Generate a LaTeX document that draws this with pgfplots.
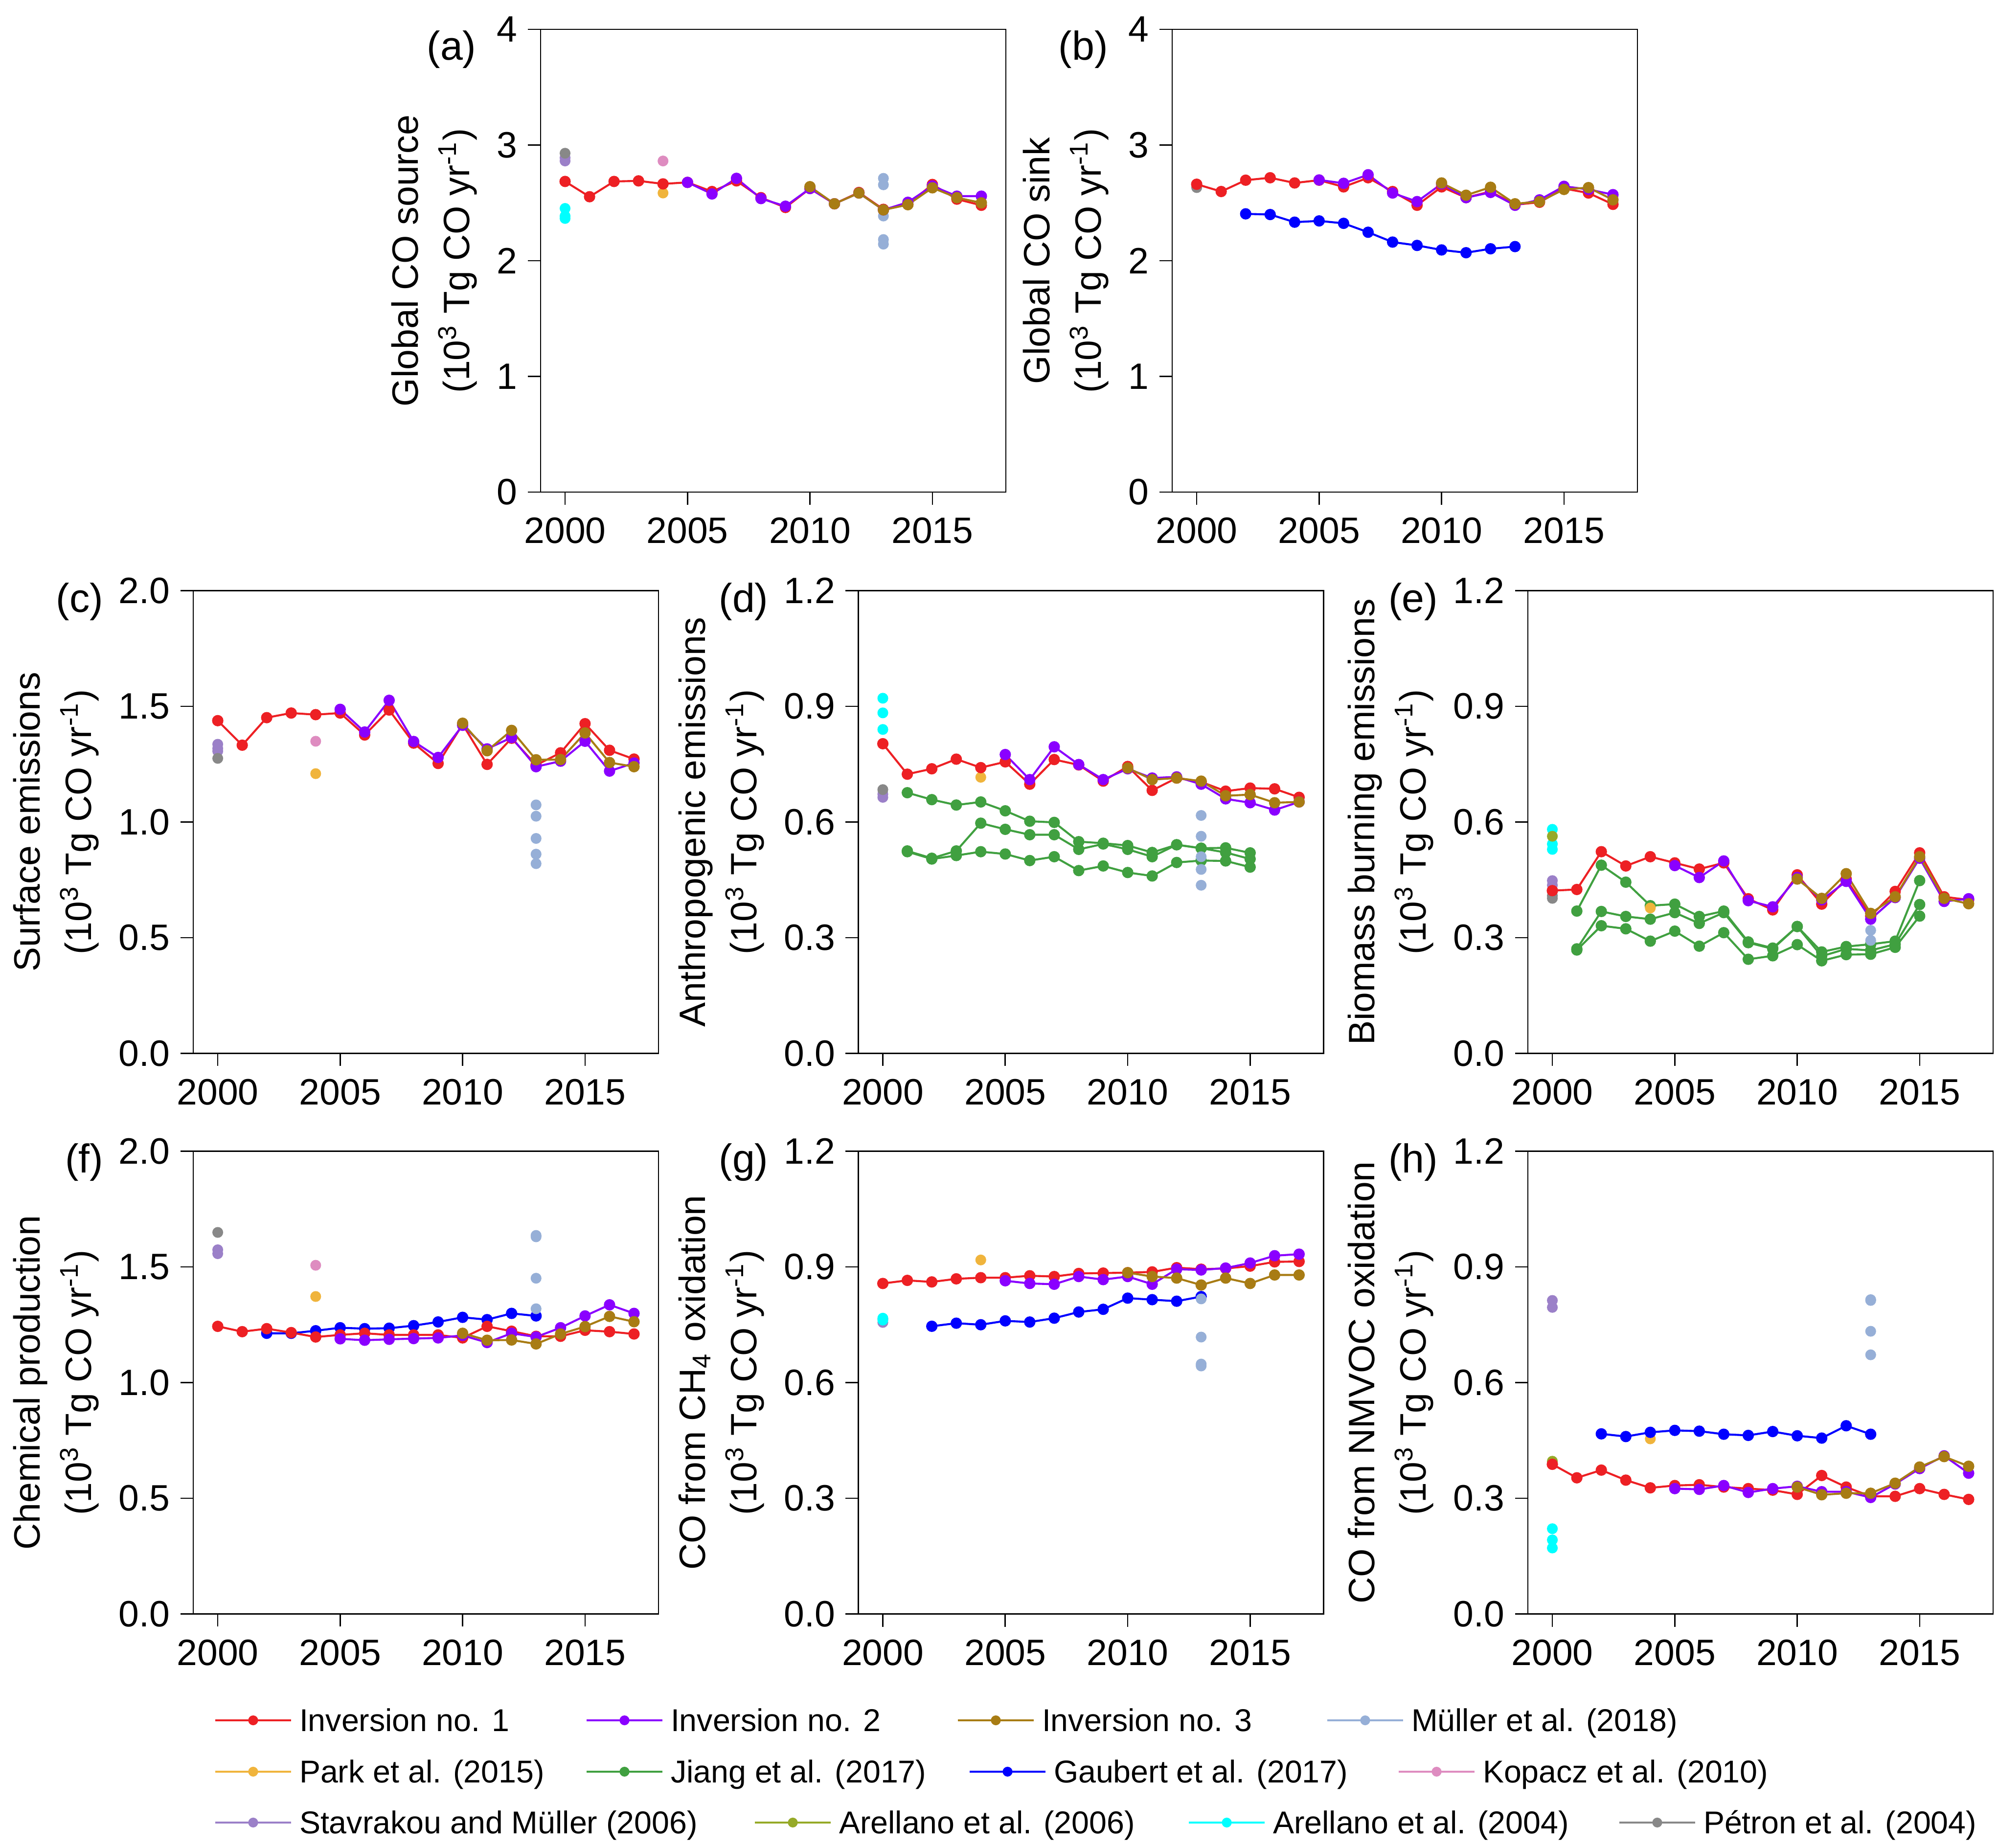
\documentclass[border=0pt]{standalone}
\usepackage{fontspec}
\setmainfont{Liberation Sans}
\usepackage{pgfplots}
\pgfplotsset{compat=1.18}
\definecolor{inv1}{RGB}{237,32,36}
\definecolor{inv2}{RGB}{138,0,255}
\definecolor{inv3}{RGB}{168,124,20}
\definecolor{muller}{RGB}{150,175,215}
\definecolor{park}{RGB}{240,180,60}
\definecolor{jiang}{RGB}{64,160,64}
\definecolor{gaubert}{RGB}{0,0,255}
\definecolor{kopacz}{RGB}{222,140,192}
\definecolor{stavrakou}{RGB}{155,128,200}
\definecolor{arel06}{RGB}{150,170,40}
\definecolor{arel04}{RGB}{0,255,255}
\definecolor{petron}{RGB}{136,136,136}
\pgfplotsset{
  panel/.style={scale only axis, width=126.8pt, height=126.13pt, anchor=south west,
    xmin=1999, xmax=2018, xtick={2000,2005,2010,2015}, xticklabels={2000,2005,2010,2015},
    tick align=outside, tick pos=left, major tick length=3.47pt,
    axis line style={line width=0.35pt}, every tick/.style={black, line width=0.35pt},
    tick label style={font=\fontsize{10}{12}\selectfont},
    yticklabel style={inner xsep=2.7pt},
    /pgf/number format/assume math mode=true,
    ylabel style={font=\fontsize{10}{14}\selectfont, align=center, inner sep=0pt, anchor=south},
    clip=false},
  dec/.style={yticklabel style={/pgf/number format/.cd, fixed, fixed zerofill, precision=1}},
  ser/.style={color=#1, line width=0.55pt, mark=*, mark size=1.27pt, mark options={solid}},
  pts/.style={color=#1, only marks, mark=*, mark size=1.27pt},
  leg/.style={color=#1, line width=0.53pt, mark=*, mark size=1.07pt},
  legrow/.style={hide axis, scale only axis, width=544.533pt, height=503.6pt, at={(0pt,0pt)}, anchor=south west,
    xmin=0, xmax=1, ymin=0, ymax=1, legend columns=4, legend cell align=left,
    legend style={at={(axis description cs:0.10725,#1)}, anchor=west, draw=none, fill=none,
      inner sep=0pt, outer sep=0pt, font=\fontsize{8.6}{10}\selectfont,
      nodes={inner sep=0pt, text depth=0pt},
      /tikz/every even column/.style={column sep=0pt},
      /tikz/every odd column/.style={column sep=0pt}},
    legend image code/.code={\draw[mark repeat=2, mark phase=2, ##1] plot coordinates {(0pt,0pt) (10.33pt,0pt) (20.67pt,0pt)};}},
}
\newcommand{\lt}[2]{\makebox[#1][l]{\hspace{2.0pt}\vphantom{I}\smash{#2}}}
\newcommand{\ylab}[1]{#1\\(10\textsuperscript{3} Tg CO yr\textsuperscript{-1})}
\begin{document}
\begin{tikzpicture}
\useasboundingbox (0,0) rectangle (544.533pt,503.6pt);

% (a)
\begin{axis}[panel, at={(147.33pt,369.47pt)}, ymin=0, ymax=4, ytick={0,1,2,3,4},
  ylabel={\ylab{Global CO source}}, ylabel style={at={(axis description cs:-0.1346,0.5)}}]
\addplot[pts=arel04] coordinates {(2000,2.452)(2000,2.386)(2000,2.365)};
\addplot[pts=stavrakou] coordinates {(2000,2.862)(2000,2.89)};
\addplot[pts=petron] coordinates {(2000,2.929)};
\addplot[pts=kopacz] coordinates {(2004,2.862)};
\addplot[pts=park] coordinates {(2004,2.585)};
\addplot[pts=muller] coordinates {(2013,2.712)(2013,2.656)(2013,2.386)(2013,2.183)(2013,2.143)};
\addplot[ser=inv1] coordinates {(2000,2.685)(2001,2.553)(2002,2.685)(2003,2.690)(2004,2.664)(2005,2.677)(2006,2.598)(2007,2.690)(2008,2.545)(2009,2.460)(2010,2.624)(2011,2.492)(2012,2.590)(2013,2.444)(2014,2.487)(2015,2.659)(2016,2.532)(2017,2.479)};
\addplot[ser=inv2] coordinates {(2005,2.677)(2006,2.577)(2007,2.712)(2008,2.537)(2009,2.471)(2010,2.624)(2011,2.492)(2012,2.585)(2013,2.439)(2014,2.505)(2015,2.646)(2016,2.558)(2017,2.558)};
\addplot[ser=inv3] coordinates {(2010,2.640)(2011,2.492)(2012,2.585)(2013,2.439)(2014,2.484)(2015,2.630)(2016,2.545)(2017,2.500)};
\node[anchor=east, inner sep=0pt, font=\fontsize{11}{13}\selectfont] at (axis description cs:-0.1367,0.956) {(a)};
\end{axis}

% (b)
\begin{axis}[panel, at={(319.47pt,369.47pt)}, ymin=0, ymax=4, ytick={0,1,2,3,4},
  ylabel={\ylab{Global CO sink}}, ylabel style={at={(axis description cs:-0.1346,0.5)}}]
\addplot[pts=petron] coordinates {(2000,2.632)};
\addplot[ser=gaubert] coordinates {(2002,2.405)(2003,2.399)(2004,2.333)(2005,2.344)(2006,2.323)(2007,2.246)(2008,2.161)(2009,2.132)(2010,2.093)(2011,2.069)(2012,2.103)(2013,2.122)};
\addplot[ser=inv1] coordinates {(2000,2.661)(2001,2.598)(2002,2.696)(2003,2.717)(2004,2.672)(2005,2.696)(2006,2.638)(2007,2.717)(2008,2.598)(2009,2.479)(2010,2.638)(2011,2.545)(2012,2.598)(2013,2.484)(2014,2.505)(2015,2.624)(2016,2.585)(2017,2.487)};
\addplot[ser=inv2] coordinates {(2005,2.698)(2006,2.669)(2007,2.743)(2008,2.585)(2009,2.511)(2010,2.664)(2011,2.545)(2012,2.590)(2013,2.479)(2014,2.526)(2015,2.643)(2016,2.616)(2017,2.571)};
\addplot[ser=inv3] coordinates {(2010,2.672)(2011,2.566)(2012,2.635)(2013,2.492)(2014,2.511)(2015,2.616)(2016,2.632)(2017,2.526)};
\node[anchor=east, inner sep=0pt, font=\fontsize{11}{13}\selectfont] at (axis description cs:-0.1367,0.956) {(b)};
\end{axis}

% (c)
\begin{axis}[panel, dec, at={(52.67pt,216.47pt)}, ymin=0, ymax=2, ytick={0,0.5,1,1.5,2},
  ylabel={\ylab{Surface emissions}}, ylabel style={at={(axis description cs:-0.2009,0.5)}}]
\addplot[pts=stavrakou] coordinates {(2000,1.336)(2000,1.318)(2000,1.306)};
\addplot[pts=petron] coordinates {(2000,1.275)};
\addplot[pts=kopacz] coordinates {(2004,1.349)};
\addplot[pts=park] coordinates {(2004,1.209)};
\addplot[pts=muller] coordinates {(2013,1.074)(2013,1.025)(2013,0.929)(2013,0.861)(2013,0.820)};
\addplot[ser=inv1] coordinates {(2000,1.438)(2001,1.332)(2002,1.451)(2003,1.471)(2004,1.464)(2005,1.471)(2006,1.376)(2007,1.484)(2008,1.341)(2009,1.253)(2010,1.422)(2011,1.249)(2012,1.362)(2013,1.246)(2014,1.299)(2015,1.425)(2016,1.310)(2017,1.272)};
\addplot[ser=inv2] coordinates {(2005,1.487)(2006,1.389)(2007,1.526)(2008,1.348)(2009,1.279)(2010,1.418)(2011,1.316)(2012,1.365)(2013,1.239)(2014,1.263)(2015,1.349)(2016,1.220)(2017,1.255)};
\addplot[ser=inv3] coordinates {(2010,1.427)(2011,1.308)(2012,1.396)(2013,1.269)(2014,1.270)(2015,1.385)(2016,1.257)(2017,1.239)};
\node[anchor=east, inner sep=0pt, font=\fontsize{11}{13}\selectfont] at (axis description cs:-0.192,0.976) {(c)};
\end{axis}

% (d)
\begin{axis}[panel, dec, at={(233.93pt,216.47pt)}, ymin=0, ymax=1.2, ytick={0,0.3,0.6,0.9,1.2},
  ylabel={\ylab{Anthropogenic emissions}}, ylabel style={at={(axis description cs:-0.2009,0.5)}}]
\addplot[pts=arel04] coordinates {(2000,0.921)(2000,0.883)(2000,0.840)};
\addplot[pts=stavrakou] coordinates {(2000,0.664)(2000,0.672)};
\addplot[pts=petron] coordinates {(2000,0.684)};
\addplot[pts=park] coordinates {(2004,0.716)};
\addplot[ser=jiang] coordinates {(2001,0.676)(2002,0.658)(2003,0.644)(2004,0.652)(2005,0.629)(2006,0.602)(2007,0.599)(2008,0.549)(2009,0.545)(2010,0.539)(2011,0.521)(2012,0.541)(2013,0.532)(2014,0.533)(2015,0.520)};
\addplot[ser=jiang] coordinates {(2001,0.525)(2002,0.506)(2003,0.525)(2004,0.597)(2005,0.581)(2006,0.567)(2007,0.567)(2008,0.529)(2009,0.543)(2010,0.529)(2011,0.510)(2012,0.541)(2013,0.532)(2014,0.521)(2015,0.504)};
\addplot[ser=jiang] coordinates {(2001,0.523)(2002,0.504)(2003,0.513)(2004,0.523)(2005,0.517)(2006,0.500)(2007,0.510)(2008,0.474)(2009,0.486)(2010,0.469)(2011,0.460)(2012,0.495)(2013,0.500)(2014,0.499)(2015,0.483)};
\addplot[pts=muller] coordinates {(2013,0.617)(2013,0.563)(2013,0.510)(2013,0.477)(2013,0.436)};
\addplot[ser=inv1] coordinates {(2000,0.803)(2001,0.724)(2002,0.738)(2003,0.763)(2004,0.741)(2005,0.756)(2006,0.698)(2007,0.762)(2008,0.748)(2009,0.706)(2010,0.744)(2011,0.682)(2012,0.714)(2013,0.704)(2014,0.680)(2015,0.688)(2016,0.686)(2017,0.664)};
\addplot[ser=inv2] coordinates {(2005,0.775)(2006,0.710)(2007,0.795)(2008,0.749)(2009,0.710)(2010,0.738)(2011,0.714)(2012,0.717)(2013,0.698)(2014,0.660)(2015,0.650)(2016,0.631)(2017,0.652)};
\addplot[ser=inv3] coordinates {(2010,0.740)(2011,0.710)(2012,0.714)(2013,0.706)(2014,0.668)(2015,0.671)(2016,0.650)(2017,0.652)};
\node[anchor=east, inner sep=0pt, font=\fontsize{11}{13}\selectfont] at (axis description cs:-0.192,0.976) {(d)};
\end{axis}

% (e)
\begin{axis}[panel, dec, at={(416.4pt,216.47pt)}, ymin=0, ymax=1.2, ytick={0,0.3,0.6,0.9,1.2},
  ylabel={\ylab{Biomass burning emissions}}, ylabel style={at={(axis description cs:-0.2009,0.5)}}]
\addplot[pts=arel04] coordinates {(2000,0.581)(2000,0.543)(2000,0.529)};
\addplot[pts=arel06] coordinates {(2000,0.563)};
\addplot[pts=stavrakou] coordinates {(2000,0.448)(2000,0.436)};
\addplot[pts=petron] coordinates {(2000,0.409)(2000,0.402)};
\addplot[ser=jiang] coordinates {(2001,0.369)(2002,0.488)(2003,0.444)(2004,0.383)(2005,0.387)(2006,0.355)(2007,0.369)(2008,0.289)(2009,0.273)(2010,0.329)(2011,0.263)(2012,0.277)(2013,0.283)(2014,0.291)(2015,0.448)};
\addplot[ser=jiang] coordinates {(2001,0.271)(2002,0.368)(2003,0.355)(2004,0.348)(2005,0.365)(2006,0.337)(2007,0.365)(2008,0.287)(2009,0.271)(2010,0.329)(2011,0.252)(2012,0.271)(2013,0.267)(2014,0.283)(2015,0.386)};
\addplot[ser=jiang] coordinates {(2001,0.268)(2002,0.331)(2003,0.323)(2004,0.291)(2005,0.317)(2006,0.278)(2007,0.313)(2008,0.244)(2009,0.253)(2010,0.282)(2011,0.240)(2012,0.256)(2013,0.257)(2014,0.275)(2015,0.356)};
\addplot[pts=park] coordinates {(2004,0.377)};
\addplot[pts=muller] coordinates {(2013,0.319)(2013,0.293)};
\addplot[ser=inv1] coordinates {(2000,0.422)(2001,0.425)(2002,0.523)(2003,0.486)(2004,0.510)(2005,0.494)(2006,0.478)(2007,0.494)(2008,0.401)(2009,0.372)(2010,0.463)(2011,0.387)(2012,0.452)(2013,0.356)(2014,0.420)(2015,0.520)(2016,0.406)(2017,0.398)};
\addplot[ser=inv2] coordinates {(2005,0.487)(2006,0.456)(2007,0.499)(2008,0.396)(2009,0.380)(2010,0.456)(2011,0.398)(2012,0.446)(2013,0.348)(2014,0.404)(2015,0.506)(2016,0.394)(2017,0.401)};
\addplot[ser=inv3] coordinates {(2010,0.452)(2011,0.402)(2012,0.466)(2013,0.363)(2014,0.406)(2015,0.510)(2016,0.402)(2017,0.388)};
\node[anchor=east, inner sep=0pt, font=\fontsize{11}{13}\selectfont] at (axis description cs:-0.192,0.976) {(e)};
\end{axis}

% (f)
\begin{axis}[panel, dec, at={(52.67pt,63.67pt)}, ymin=0, ymax=2, ytick={0,0.5,1,1.5,2},
  ylabel={\ylab{Chemical production}}, ylabel style={at={(axis description cs:-0.2009,0.5)}}]
\addplot[pts=stavrakou] coordinates {(2000,1.574)(2000,1.557)};
\addplot[pts=petron] coordinates {(2000,1.649)};
\addplot[pts=kopacz] coordinates {(2004,1.507)};
\addplot[pts=park] coordinates {(2004,1.372)};
\addplot[ser=gaubert] coordinates {(2002,1.213)(2003,1.213)(2004,1.224)(2005,1.237)(2006,1.233)(2007,1.235)(2008,1.246)(2009,1.262)(2010,1.282)(2011,1.272)(2012,1.299)(2013,1.288)};
\addplot[pts=muller] coordinates {(2013,1.636)(2013,1.630)(2013,1.451)(2013,1.319)};
\addplot[ser=inv1] coordinates {(2000,1.243)(2001,1.220)(2002,1.233)(2003,1.216)(2004,1.197)(2005,1.206)(2006,1.213)(2007,1.206)(2008,1.206)(2009,1.206)(2010,1.193)(2011,1.243)(2012,1.222)(2013,1.200)(2014,1.200)(2015,1.226)(2016,1.220)(2017,1.210)};
\addplot[ser=inv2] coordinates {(2005,1.189)(2006,1.183)(2007,1.187)(2008,1.190)(2009,1.193)(2010,1.204)(2011,1.173)(2012,1.213)(2013,1.197)(2014,1.237)(2015,1.288)(2016,1.336)(2017,1.299)};
\addplot[ser=inv3] coordinates {(2010,1.213)(2011,1.183)(2012,1.184)(2013,1.167)(2014,1.210)(2015,1.242)(2016,1.286)(2017,1.263)};
\node[anchor=east, inner sep=0pt, font=\fontsize{11}{13}\selectfont] at (axis description cs:-0.192,0.976) {(f)};
\end{axis}

% (g)
\begin{axis}[panel, dec, at={(233.93pt,63.67pt)}, ymin=0, ymax=1.2, ytick={0,0.3,0.6,0.9,1.2},
  ylabel={\ylab{CO from CH\textsubscript{4} oxidation}}, ylabel style={at={(axis description cs:-0.2009,0.5)}}]
\addplot[pts=stavrakou] coordinates {(2000,0.756)(2000,0.765)};
\addplot[pts=arel04] coordinates {(2000,0.767)(2000,0.762)};
\addplot[pts=park] coordinates {(2004,0.918)};
\addplot[ser=gaubert] coordinates {(2002,0.746)(2003,0.754)(2004,0.750)(2005,0.760)(2006,0.757)(2007,0.767)(2008,0.783)(2009,0.790)(2010,0.819)(2011,0.815)(2012,0.811)(2013,0.823)};
\addplot[pts=muller] coordinates {(2013,0.817)(2013,0.718)(2013,0.648)(2013,0.643)};
\addplot[ser=inv1] coordinates {(2000,0.857)(2001,0.865)(2002,0.861)(2003,0.869)(2004,0.872)(2005,0.872)(2006,0.877)(2007,0.875)(2008,0.883)(2009,0.884)(2010,0.885)(2011,0.887)(2012,0.898)(2013,0.894)(2014,0.896)(2015,0.902)(2016,0.913)(2017,0.914)};
\addplot[ser=inv2] coordinates {(2005,0.864)(2006,0.857)(2007,0.855)(2008,0.875)(2009,0.867)(2010,0.875)(2011,0.855)(2012,0.894)(2013,0.892)(2014,0.897)(2015,0.910)(2016,0.929)(2017,0.933)};
\addplot[ser=inv3] coordinates {(2010,0.885)(2011,0.875)(2012,0.871)(2013,0.853)(2014,0.871)(2015,0.857)(2016,0.879)(2017,0.879)};
\node[anchor=east, inner sep=0pt, font=\fontsize{11}{13}\selectfont] at (axis description cs:-0.192,0.976) {(g)};
\end{axis}

% (h)
\begin{axis}[panel, dec, at={(416.4pt,63.67pt)}, ymin=0, ymax=1.2, ytick={0,0.3,0.6,0.9,1.2},
  ylabel={\ylab{CO from NMVOC oxidation}}, ylabel style={at={(axis description cs:-0.2009,0.5)}}]
\addplot[pts=stavrakou] coordinates {(2000,0.813)(2000,0.795)};
\addplot[pts=arel06] coordinates {(2000,0.396)};
\addplot[pts=arel04] coordinates {(2000,0.221)(2000,0.192)(2000,0.171)};
\addplot[pts=park] coordinates {(2004,0.454)};
\addplot[ser=gaubert] coordinates {(2002,0.467)(2003,0.460)(2004,0.471)(2005,0.476)(2006,0.474)(2007,0.466)(2008,0.463)(2009,0.473)(2010,0.462)(2011,0.456)(2012,0.488)(2013,0.466)};
\addplot[pts=muller] coordinates {(2013,0.815)(2013,0.813)(2013,0.733)(2013,0.672)};
\addplot[ser=inv1] coordinates {(2000,0.388)(2001,0.353)(2002,0.373)(2003,0.347)(2004,0.327)(2005,0.333)(2006,0.335)(2007,0.329)(2008,0.325)(2009,0.321)(2010,0.310)(2011,0.359)(2012,0.329)(2013,0.305)(2014,0.305)(2015,0.325)(2016,0.310)(2017,0.297)};
\addplot[ser=inv2] coordinates {(2005,0.325)(2006,0.323)(2007,0.333)(2008,0.315)(2009,0.325)(2010,0.331)(2011,0.317)(2012,0.317)(2013,0.302)(2014,0.337)(2015,0.377)(2016,0.410)(2017,0.365)};
\addplot[ser=inv3] coordinates {(2010,0.329)(2011,0.309)(2012,0.313)(2013,0.313)(2014,0.339)(2015,0.381)(2016,0.408)(2017,0.383)};
\node[anchor=east, inner sep=0pt, font=\fontsize{11}{13}\selectfont] at (axis description cs:-0.192,0.976) {(h)};
\end{axis}

% legend rows
\begin{axis}[legrow=0.06884]
\addlegendimage{leg=inv1}\addlegendentry{\lt{80pt}{Inversion no. 1}}
\addlegendimage{leg=inv2}\addlegendentry{\lt{80pt}{Inversion no. 2}}
\addlegendimage{leg=inv3}\addlegendentry{\lt{79.47pt}{Inversion no. 3}}
\addlegendimage{leg=muller}\addlegendentry{\lt{90pt}{Müller et al. (2018)}}
\end{axis}
\begin{axis}[legrow=0.04104]
\addlegendimage{leg=park}\addlegendentry{\lt{80pt}{Park et al. (2015)}}
\addlegendimage{leg=jiang}\addlegendentry{\lt{83.2pt}{Jiang et al. (2017)}}
\addlegendimage{leg=gaubert}\addlegendentry{\lt{95.73pt}{Gaubert et al. (2017)}}
\addlegendimage{leg=kopacz}\addlegendentry{\lt{90pt}{Kopacz et al. (2010)}}
\end{axis}
\begin{axis}[legrow=0.0135]
\addlegendimage{leg=stavrakou}\addlegendentry{\lt{125.87pt}{Stavrakou and Müller (2006)}}
\addlegendimage{leg=arel06}\addlegendentry{\lt{97.07pt}{Arellano et al. (2006)}}
\addlegendimage{leg=arel04}\addlegendentry{\lt{96.13pt}{Arellano et al. (2004)}}
\addlegendimage{leg=petron}\addlegendentry{\lt{90pt}{Pétron et al. (2004)}}
\end{axis}
\end{tikzpicture}
\end{document}
